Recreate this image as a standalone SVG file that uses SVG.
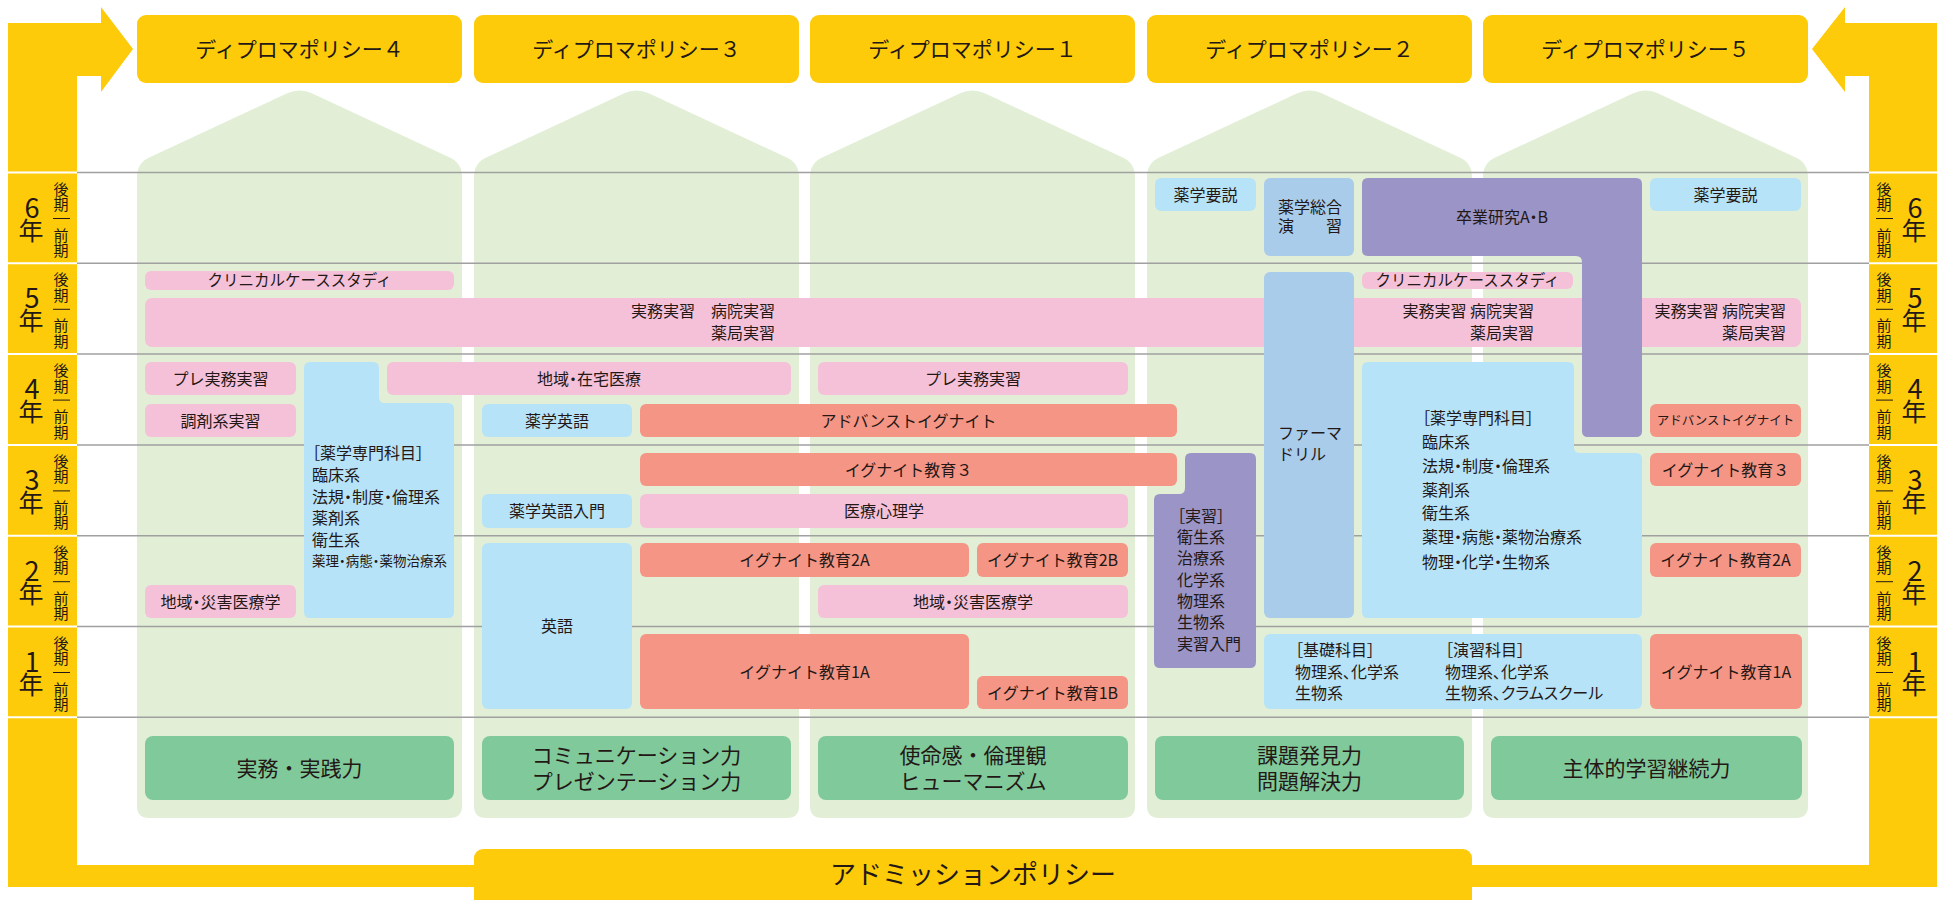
<svg xmlns="http://www.w3.org/2000/svg" xmlns:xlink="http://www.w3.org/1999/xlink" width="1943" height="900" viewBox="0 0 1943 900">
<style>
text{font-family:"Noto Sans CJK JP","Noto Sans",sans-serif;fill:#231815}
.yl{fill:#FDCB0A}.hs{fill:#E2EFD6}.pk{fill:#F5C1D9}.sa{fill:#F59585}.lb{fill:#B7E3F8}.mb{fill:#A9CCEB}.pu{fill:#9A94C7}.ab{fill:#80C99B}
.c{text-anchor:middle}.e{text-anchor:end}.p{font-feature-settings:"palt"}
.f16{font-size:16px}.f15{font-size:15.5px}.f21{font-size:21px}.yr{font-size:15px}.yn{font-size:27px}.yk{font-size:25px}
.rl{stroke:#A0A0A0;stroke-width:1.5}.wl{stroke:#FFFFFF;stroke-width:2}.dl{stroke:#231815;stroke-width:1}
</style>
<defs>
<path id="house" d="M0,177 Q0,163 12.8,157.3 L149.7,93.5 Q162.5,87.5 175.3,93.5 L312.2,157.3 Q325,163 325,177 V806 Q325,818 313,818 H12 Q0,818 0,806 Z"/>
</defs>
<rect width="1943" height="900" fill="#FFFFFF"/>
<g id="connectors">
<path class="yl" d="M8,887 V23 H101 V7 L133,49 L101,92 V76 H77 V865 H1869 V76 H1845 V92 L1812,49 L1845,7 V23 H1937 V887 Z"/>
<rect class="yl" x="474" y="849" width="998" height="60" rx="9"/>
<text class="c" x="973" y="884" style="font-size:26px">アドミッションポリシー</text>
</g>
<g id="houses">
<use xlink:href="#house" class="hs" x="137"/>
<use xlink:href="#house" class="hs" x="474"/>
<use xlink:href="#house" class="hs" x="810"/>
<use xlink:href="#house" class="hs" x="1147"/>
<use xlink:href="#house" class="hs" x="1483"/>
</g>
<g id="rows">
<line class="rl" x1="77" x2="1869" y1="172.5" y2="172.5"/>
<line class="rl" x1="77" x2="1869" y1="263.3" y2="263.3"/>
<line class="rl" x1="77" x2="1869" y1="354.1" y2="354.1"/>
<line class="rl" x1="77" x2="1869" y1="444.9" y2="444.9"/>
<line class="rl" x1="77" x2="1869" y1="535.7" y2="535.7"/>
<line class="rl" x1="77" x2="1869" y1="626.5" y2="626.5"/>
<line class="rl" x1="77" x2="1869" y1="717.3" y2="717.3"/>
<g class="wl">
<line x1="8" x2="77" y1="172.5" y2="172.5"/><line x1="1869" x2="1937" y1="172.5" y2="172.5"/>
<line x1="8" x2="77" y1="263.3" y2="263.3"/><line x1="1869" x2="1937" y1="263.3" y2="263.3"/>
<line x1="8" x2="77" y1="354.1" y2="354.1"/><line x1="1869" x2="1937" y1="354.1" y2="354.1"/>
<line x1="8" x2="77" y1="444.9" y2="444.9"/><line x1="1869" x2="1937" y1="444.9" y2="444.9"/>
<line x1="8" x2="77" y1="535.7" y2="535.7"/><line x1="1869" x2="1937" y1="535.7" y2="535.7"/>
<line x1="8" x2="77" y1="626.5" y2="626.5"/><line x1="1869" x2="1937" y1="626.5" y2="626.5"/>
<line x1="8" x2="77" y1="717.3" y2="717.3"/><line x1="1869" x2="1937" y1="717.3" y2="717.3"/>
</g>
</g>
<g id="year-labels-left">
<text class="c"><tspan class="yn" x="32" y="217.5">6</tspan><tspan class="yk" x="31" y="239.5">年</tspan></text>
<text class="c yr"><tspan x="61" y="194.5">後</tspan><tspan x="61" y="210">期</tspan></text><line class="dl" x1="53" x2="70" y1="218.5" y2="218.5"/><text class="c yr"><tspan x="61" y="240.5">前</tspan><tspan x="61" y="256">期</tspan></text>
<text class="c"><tspan class="yn" x="32" y="308.3">5</tspan><tspan class="yk" x="31" y="330.3">年</tspan></text>
<text class="c yr"><tspan x="61" y="285.3">後</tspan><tspan x="61" y="300.8">期</tspan></text><line class="dl" x1="53" x2="70" y1="309.3" y2="309.3"/><text class="c yr"><tspan x="61" y="331.3">前</tspan><tspan x="61" y="346.8">期</tspan></text>
<text class="c"><tspan class="yn" x="32" y="399.1">4</tspan><tspan class="yk" x="31" y="421.1">年</tspan></text>
<text class="c yr"><tspan x="61" y="376.1">後</tspan><tspan x="61" y="391.6">期</tspan></text><line class="dl" x1="53" x2="70" y1="400.1" y2="400.1"/><text class="c yr"><tspan x="61" y="422.1">前</tspan><tspan x="61" y="437.6">期</tspan></text>
<text class="c"><tspan class="yn" x="32" y="489.9">3</tspan><tspan class="yk" x="31" y="511.9">年</tspan></text>
<text class="c yr"><tspan x="61" y="466.9">後</tspan><tspan x="61" y="482.4">期</tspan></text><line class="dl" x1="53" x2="70" y1="490.9" y2="490.9"/><text class="c yr"><tspan x="61" y="512.9">前</tspan><tspan x="61" y="528.4">期</tspan></text>
<text class="c"><tspan class="yn" x="32" y="580.7">2</tspan><tspan class="yk" x="31" y="602.7">年</tspan></text>
<text class="c yr"><tspan x="61" y="557.7">後</tspan><tspan x="61" y="573.2">期</tspan></text><line class="dl" x1="53" x2="70" y1="581.7" y2="581.7"/><text class="c yr"><tspan x="61" y="603.7">前</tspan><tspan x="61" y="619.2">期</tspan></text>
<text class="c"><tspan class="yn" x="32" y="671.5">1</tspan><tspan class="yk" x="31" y="693.5">年</tspan></text>
<text class="c yr"><tspan x="61" y="648.5">後</tspan><tspan x="61" y="664">期</tspan></text><line class="dl" x1="53" x2="70" y1="672.5" y2="672.5"/><text class="c yr"><tspan x="61" y="694.5">前</tspan><tspan x="61" y="710">期</tspan></text>
</g>
<g id="year-labels-right">
<text class="c"><tspan class="yn" x="1915" y="217.5">6</tspan><tspan class="yk" x="1914" y="239.5">年</tspan></text>
<text class="c yr"><tspan x="1884" y="194.5">後</tspan><tspan x="1884" y="210">期</tspan></text><line class="dl" x1="1876" x2="1893" y1="218.5" y2="218.5"/><text class="c yr"><tspan x="1884" y="240.5">前</tspan><tspan x="1884" y="256">期</tspan></text>
<text class="c"><tspan class="yn" x="1915" y="308.3">5</tspan><tspan class="yk" x="1914" y="330.3">年</tspan></text>
<text class="c yr"><tspan x="1884" y="285.3">後</tspan><tspan x="1884" y="300.8">期</tspan></text><line class="dl" x1="1876" x2="1893" y1="309.3" y2="309.3"/><text class="c yr"><tspan x="1884" y="331.3">前</tspan><tspan x="1884" y="346.8">期</tspan></text>
<text class="c"><tspan class="yn" x="1915" y="399.1">4</tspan><tspan class="yk" x="1914" y="421.1">年</tspan></text>
<text class="c yr"><tspan x="1884" y="376.1">後</tspan><tspan x="1884" y="391.6">期</tspan></text><line class="dl" x1="1876" x2="1893" y1="400.1" y2="400.1"/><text class="c yr"><tspan x="1884" y="422.1">前</tspan><tspan x="1884" y="437.6">期</tspan></text>
<text class="c"><tspan class="yn" x="1915" y="489.9">3</tspan><tspan class="yk" x="1914" y="511.9">年</tspan></text>
<text class="c yr"><tspan x="1884" y="466.9">後</tspan><tspan x="1884" y="482.4">期</tspan></text><line class="dl" x1="1876" x2="1893" y1="490.9" y2="490.9"/><text class="c yr"><tspan x="1884" y="512.9">前</tspan><tspan x="1884" y="528.4">期</tspan></text>
<text class="c"><tspan class="yn" x="1915" y="580.7">2</tspan><tspan class="yk" x="1914" y="602.7">年</tspan></text>
<text class="c yr"><tspan x="1884" y="557.7">後</tspan><tspan x="1884" y="573.2">期</tspan></text><line class="dl" x1="1876" x2="1893" y1="581.7" y2="581.7"/><text class="c yr"><tspan x="1884" y="603.7">前</tspan><tspan x="1884" y="619.2">期</tspan></text>
<text class="c"><tspan class="yn" x="1915" y="671.5">1</tspan><tspan class="yk" x="1914" y="693.5">年</tspan></text>
<text class="c yr"><tspan x="1884" y="648.5">後</tspan><tspan x="1884" y="664">期</tspan></text><line class="dl" x1="1876" x2="1893" y1="672.5" y2="672.5"/><text class="c yr"><tspan x="1884" y="694.5">前</tspan><tspan x="1884" y="710">期</tspan></text>
</g>
<g id="dp4"><rect class="yl" x="137" y="15" width="325" height="68" rx="9"/><text class="c f21" x="299.5" y="56.5">ディプロマポリシー４</text></g>
<g id="dp3"><rect class="yl" x="474" y="15" width="325" height="68" rx="9"/><text class="c f21" x="636.5" y="56.5">ディプロマポリシー３</text></g>
<g id="dp1"><rect class="yl" x="810" y="15" width="325" height="68" rx="9"/><text class="c f21" x="972.5" y="56.5">ディプロマポリシー１</text></g>
<g id="dp2"><rect class="yl" x="1147" y="15" width="325" height="68" rx="9"/><text class="c f21" x="1309.5" y="56.5">ディプロマポリシー２</text></g>
<g id="dp5"><rect class="yl" x="1483" y="15" width="325" height="68" rx="9"/><text class="c f21" x="1645.5" y="56.5">ディプロマポリシー５</text></g>

<g id="jitsumu-jisshu"><rect class="pk" x="145" y="298" width="1656" height="49" rx="7"/>
<text class="e f16"><tspan x="775" y="317">実務実習　病院実習</tspan><tspan x="775" y="339">薬局実習</tspan></text>
<text class="e f16"><tspan x="1534" y="317">実務実習 病院実習</tspan><tspan x="1534" y="339">薬局実習</tspan></text>
<text class="e f16"><tspan x="1786" y="317">実務実習 病院実習</tspan><tspan x="1786" y="339">薬局実習</tspan></text></g>

<g id="clinical-case-1"><rect class="pk" x="145" y="271" width="309" height="19" rx="6"/><text class="c f15" x="299.5" y="286">クリニカルケーススタディ</text></g>
<g id="pre-jitsumu-1"><rect class="pk" x="145" y="362" width="151" height="33" rx="6"/><text class="c f16" x="220.5" y="384.5">プレ実務実習</text></g>
<g id="chozai"><rect class="pk" x="145" y="404" width="151" height="33" rx="6"/><text class="c f16" x="220.5" y="426.5">調剤系実習</text></g>
<g id="chiiki-saigai-1"><rect class="pk" x="145" y="585" width="151" height="33" rx="6"/><text class="c f16 p" x="220.5" y="607.5">地域・災害医療学</text></g>
<g id="senmon-1"><path class="lb" d="M304,368 Q304,362 310,362 H373 Q379,362 379,368 V397 Q379,403 385,403 H448 Q454,403 454,409 V612 Q454,618 448,618 H310 Q304,618 304,612 Z"/>
<text class="f16 p"><tspan x="312" y="459">［薬学専門科目］</tspan><tspan x="312" y="481">臨床系</tspan><tspan x="312" y="503">法規・制度・倫理系</tspan><tspan x="312" y="524">薬剤系</tspan><tspan x="312" y="546">衛生系</tspan><tspan x="312" y="566" style="font-size:13.5px">薬理・病態・薬物治療系</tspan></text></g>
<g id="chiiki-zaitaku"><rect class="pk" x="387" y="362" width="404" height="33" rx="6"/><text class="c f16 p" x="589" y="384.5">地域・在宅医療</text></g>
<g id="yakugaku-eigo"><rect class="lb" x="482" y="404" width="150" height="33" rx="6"/><text class="c f16" x="557" y="426.5">薬学英語</text></g>
<g id="yakugaku-eigo-nyumon"><rect class="lb" x="482" y="494" width="150" height="34" rx="6"/><text class="c f16" x="557" y="517">薬学英語入門</text></g>
<g id="eigo"><rect class="lb" x="482" y="543" width="150" height="166" rx="6"/><text class="c f16" x="557" y="632">英語</text></g>
<g id="advanced-ignite-1"><rect class="sa" x="640" y="404" width="537" height="33" rx="6"/><text class="c f16" x="908.5" y="426.5">アドバンストイグナイト</text></g>
<g id="ignite-3-1"><rect class="sa" x="640" y="453" width="537" height="33" rx="6"/><text class="c f16" x="908.5" y="475.5">イグナイト教育３</text></g>
<g id="iryo-shinri"><rect class="pk" x="640" y="494" width="488" height="34" rx="6"/><text class="c f16" x="884" y="517">医療心理学</text></g>
<g id="ignite-2a-1"><rect class="sa" x="640" y="543" width="329" height="34" rx="6"/><text class="c f16" x="804.5" y="566">イグナイト教育2A</text></g>
<g id="ignite-1a-1"><rect class="sa" x="640" y="634" width="329" height="75" rx="6"/><text class="c f16" x="804.5" y="677.5">イグナイト教育1A</text></g>
<g id="pre-jitsumu-2"><rect class="pk" x="818" y="362" width="310" height="33" rx="6"/><text class="c f16" x="973" y="384.5">プレ実務実習</text></g>
<g id="ignite-2b"><rect class="sa" x="977" y="543" width="151" height="34" rx="6"/><text class="c f16" x="1052.5" y="566">イグナイト教育2B</text></g>
<g id="chiiki-saigai-2"><rect class="pk" x="818" y="585" width="310" height="33" rx="6"/><text class="c f16 p" x="973" y="607.5">地域・災害医療学</text></g>
<g id="ignite-1b"><rect class="sa" x="977" y="676" width="151" height="33" rx="6"/><text class="c f16" x="1052.5" y="698.5">イグナイト教育1B</text></g>

<g id="yakugaku-yosetsu-1"><rect class="lb" x="1155" y="178" width="101" height="33" rx="6"/><text class="c f16" x="1205.5" y="200.5">薬学要説</text></g>
<g id="sogo-enshu"><rect class="mb" x="1264" y="178" width="90" height="78" rx="6"/><text class="f16"><tspan x="1278" y="213">薬学総合</tspan><tspan x="1278" y="232">演　　習</tspan></text></g>
<g id="sotsugyo-kenkyu"><path class="pu" d="M1362,184 Q1362,178 1368,178 H1636 Q1642,178 1642,184 V431 Q1642,437 1636,437 H1588 Q1582,437 1582,431 V262 Q1582,256 1576,256 H1368 Q1362,256 1362,250 Z"/><text class="c f16 p" x="1502" y="223">卒業研究A・B</text></g>
<g id="pharma-drill"><rect class="mb" x="1264" y="272" width="90" height="346" rx="6"/><text class="f16"><tspan x="1278" y="439">ファーマ</tspan><tspan x="1278" y="460">ドリル</tspan></text></g>
<g id="clinical-case-2"><rect class="pk" x="1362" y="272" width="211" height="17" rx="6"/><text class="c f15" x="1467.5" y="286">クリニカルケーススタディ</text></g>
<g id="senmon-2"><path class="lb" d="M1362,368 Q1362,362 1368,362 H1568 Q1574,362 1574,368 V447 Q1574,453 1580,453 H1636 Q1642,453 1642,459 V612 Q1642,618 1636,618 H1368 Q1362,618 1362,612 Z"/>
<text class="f16 p"><tspan x="1422" y="424">［薬学専門科目］</tspan><tspan x="1422" y="448">臨床系</tspan><tspan x="1422" y="472">法規・制度・倫理系</tspan><tspan x="1422" y="496">薬剤系</tspan><tspan x="1422" y="519">衛生系</tspan><tspan x="1422" y="543">薬理・病態・薬物治療系</tspan><tspan x="1422" y="568">物理・化学・生物系</tspan></text></g>
<g id="jisshu"><path class="pu" d="M1185,459 Q1185,453 1191,453 H1250 Q1256,453 1256,459 V662 Q1256,668 1250,668 H1160 Q1154,668 1154,662 V500 Q1154,494 1160,494 H1179 Q1185,494 1185,488 Z"/>
<text class="f16 p"><tspan x="1177" y="522">［実習］</tspan><tspan x="1177" y="543">衛生系</tspan><tspan x="1177" y="564">治療系</tspan><tspan x="1177" y="586">化学系</tspan><tspan x="1177" y="607">物理系</tspan><tspan x="1177" y="628">生物系</tspan><tspan x="1177" y="650">実習入門</tspan></text></g>
<g id="kiso-enshu"><rect class="lb" x="1264" y="634" width="378" height="75" rx="6"/>
<text class="f16 p"><tspan x="1295" y="656">［基礎科目］</tspan><tspan x="1295" y="678">物理系、化学系</tspan><tspan x="1295" y="699">生物系</tspan></text>
<text class="f16 p"><tspan x="1445" y="656">［演習科目］</tspan><tspan x="1445" y="678">物理系、化学系</tspan><tspan x="1445" y="699">生物系、クラムスクール</tspan></text></g>

<g id="yakugaku-yosetsu-2"><rect class="lb" x="1650" y="178" width="151" height="33" rx="6"/><text class="c f16" x="1725.5" y="200.5">薬学要説</text></g>
<g id="advanced-ignite-2"><rect class="sa" x="1650" y="404" width="151" height="33" rx="6"/><text class="c" style="font-size:12.5px" x="1725.5" y="425">アドバンストイグナイト</text></g>
<g id="ignite-3-2"><rect class="sa" x="1650" y="453" width="151" height="33" rx="6"/><text class="c f16" x="1725.5" y="475.5">イグナイト教育３</text></g>
<g id="ignite-2a-2"><rect class="sa" x="1650" y="543" width="151" height="34" rx="6"/><text class="c f16" x="1725.5" y="566">イグナイト教育2A</text></g>
<g id="ignite-1a-2"><rect class="sa" x="1650" y="634" width="152" height="75" rx="6"/><text class="c f16" x="1726" y="677.5">イグナイト教育1A</text></g>

<g id="ability-4"><rect class="ab" x="145" y="736" width="309" height="64" rx="8"/><text class="c f21" x="299.5" y="775.5">実務・実践力</text></g>
<g id="ability-3"><rect class="ab" x="482" y="736" width="309" height="64" rx="8"/><text class="c f21"><tspan x="636.5" y="762.5">コミュニケーション力</tspan><tspan x="636.5" y="788.5">プレゼンテーション力</tspan></text></g>
<g id="ability-1"><rect class="ab" x="818" y="736" width="310" height="64" rx="8"/><text class="c f21"><tspan x="973" y="762.5">使命感・倫理観</tspan><tspan x="973" y="788.5">ヒューマニズム</tspan></text></g>
<g id="ability-2"><rect class="ab" x="1155" y="736" width="309" height="64" rx="8"/><text class="c f21"><tspan x="1309.5" y="762.5">課題発見力</tspan><tspan x="1309.5" y="788.5">問題解決力</tspan></text></g>
<g id="ability-5"><rect class="ab" x="1491" y="736" width="311" height="64" rx="8"/><text class="c f21" x="1646.5" y="775.5">主体的学習継続力</text></g>
</svg>
